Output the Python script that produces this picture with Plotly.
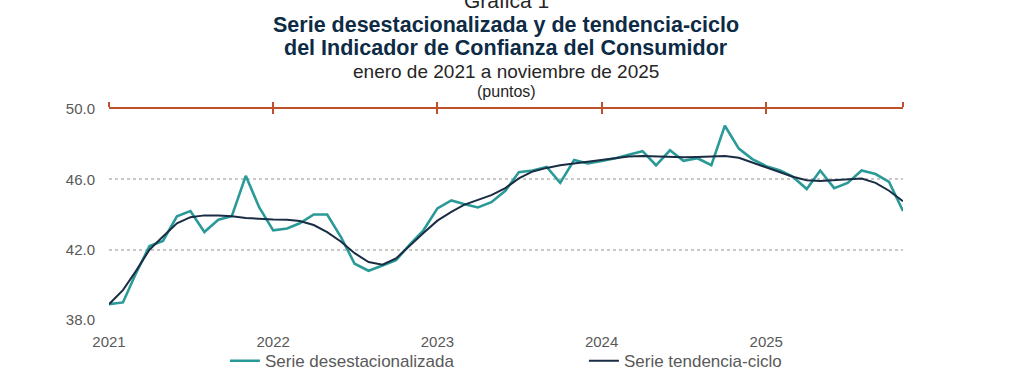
import pandas as pd
import plotly.graph_objects as go

start_month = "2021-01-01"
n_months = 59
year_ticks = ["2021-01-01", "2022-01-01", "2023-01-01", "2024-01-01", "2025-01-01"]
year_labels = ["2021", "2022", "2023", "2024", "2025"]
end_month = "2025-11-01"

desestacionalizada = [
    38.9, 39.0, 40.6, 42.2, 42.5, 43.9, 44.2, 43.0, 43.7, 43.9, 46.2, 44.4,
    43.1, 43.2, 43.5, 44.0, 44.0, 42.7, 41.2, 40.8, 41.1, 41.4, 42.3, 43.1,
    44.35, 44.8, 44.6, 44.4, 44.7, 45.35, 46.4, 46.5, 46.7, 45.8, 47.1, 46.9,
    47.05, 47.2, 47.4, 47.6, 46.8, 47.65, 47.05, 47.2, 46.8, 49.05, 47.75, 47.15,
    46.75, 46.5, 46.15, 45.45, 46.5, 45.5, 45.8, 46.5, 46.3, 45.85, 44.2,
]
tendencia = [
    38.9, 39.7, 40.75, 42.0, 42.75, 43.5, 43.85, 43.95, 43.95, 43.9, 43.8, 43.75,
    43.72, 43.7, 43.63, 43.4, 43.0, 42.45, 41.8, 41.3, 41.15, 41.5, 42.25, 42.95,
    43.65, 44.15, 44.55, 44.85, 45.1, 45.5, 46.05, 46.45, 46.65, 46.8, 46.9, 47.0,
    47.1, 47.2, 47.3, 47.33, 47.3, 47.27, 47.25, 47.27, 47.3, 47.33, 47.23, 46.95,
    46.65, 46.4, 46.15, 45.95, 45.9, 45.95, 46.03, 46.05, 45.8, 45.35, 44.75,
]
y_ticks = [38.0, 42.0, 46.0, 50.0]

fechas = pd.date_range(start_month, periods=n_months, freq="MS")

TEAL = "#2A9A98"
NAVY = "#1A2D44"
ORANGE = "#C0502A"
GRAY = "#595959"
FONT = "Liberation Sans, Arial, sans-serif"

fig = go.Figure()
fig.add_trace(go.Scatter(x=fechas, y=desestacionalizada, mode="lines",
                         name="Serie desestacionalizada",
                         line=dict(color=TEAL, width=2.6)))
fig.add_trace(go.Scatter(x=fechas, y=tendencia, mode="lines",
                         name="Serie tendencia-ciclo",
                         line=dict(color=NAVY, width=2)))
# helper traces for the top (orange) axis
fig.add_trace(go.Scatter(x=[fechas[0]], y=[None], xaxis="x2", showlegend=False, hoverinfo="skip"))
fig.add_trace(go.Scatter(x=[fechas[0]], y=[None], xaxis="x3", showlegend=False, hoverinfo="skip"))

xr = [start_month, end_month]
top_ticks = year_ticks + [end_month]

fig.update_layout(
    width=1024, height=375,
    margin=dict(l=109, r=121, t=109, b=55, autoexpand=False),
    paper_bgcolor="white", plot_bgcolor="white",
    font=dict(family=FONT, color=GRAY, size=15),
    showlegend=True,
    legend=dict(orientation="h", x=0.146, xanchor="left",
                yref="container", y=0.037, yanchor="middle",
                font=dict(size=17, color=GRAY), entrywidth=314, entrywidthmode="pixels",
                bgcolor="rgba(0,0,0,0)", itemwidth=30),
    xaxis=dict(type="date", range=xr, tickvals=year_ticks, ticktext=year_labels,
               showgrid=False, showline=False, zeroline=False,
               ticks="outside", ticklen=8, tickcolor="rgba(0,0,0,0)",
               tickfont=dict(size=15, color=GRAY)),
    xaxis2=dict(type="date", range=xr, overlaying="x", side="top", anchor="y",
                tickvals=top_ticks, showticklabels=False, showgrid=False,
                showline=True, linecolor=ORANGE, linewidth=2,
                ticks="outside", ticklen=5, tickwidth=2, tickcolor=ORANGE),
    xaxis3=dict(type="date", range=xr, overlaying="x", side="top", anchor="y",
                tickvals=top_ticks, showticklabels=False, showgrid=False,
                showline=False,
                ticks="inside", ticklen=5, tickwidth=2, tickcolor=ORANGE),
    yaxis=dict(range=[38, 50], tickvals=y_ticks, tickformat=".1f",
               showgrid=True, gridcolor="#C8C8C8", griddash="dot", gridwidth=1.5,
               zeroline=False, showline=False,
               ticks="outside", ticklen=10, tickcolor="rgba(0,0,0,0)",
               tickfont=dict(size=15, color=GRAY)),
)

titles = [
    ("Gráfica 1", 1.515, 21, False, "#262626"),
    ("Serie desestacionalizada y de tendencia-ciclo", 1.398, 21.5, True, "#0D2B45"),
    ("del Indicador de Confianza del Consumidor", 1.289, 21.5, True, "#0D2B45"),
    ("enero de 2021 a noviembre de 2025", 1.18, 19, False, "#262626"),
    ("(puntos)", 1.083, 16, False, "#262626"),
]
for text, yy, size, bold, color in titles:
    fig.add_annotation(text=f"<b>{text}</b>" if bold else text,
                       xref="paper", yref="paper", x=0.5, y=yy,
                       xanchor="center", yanchor="middle", showarrow=False,
                       font=dict(size=size, color=color, family=FONT))

fig.write_html("out.html", config={"displayModeBar": False},
               post_script="document.body.style.margin='0px';")
